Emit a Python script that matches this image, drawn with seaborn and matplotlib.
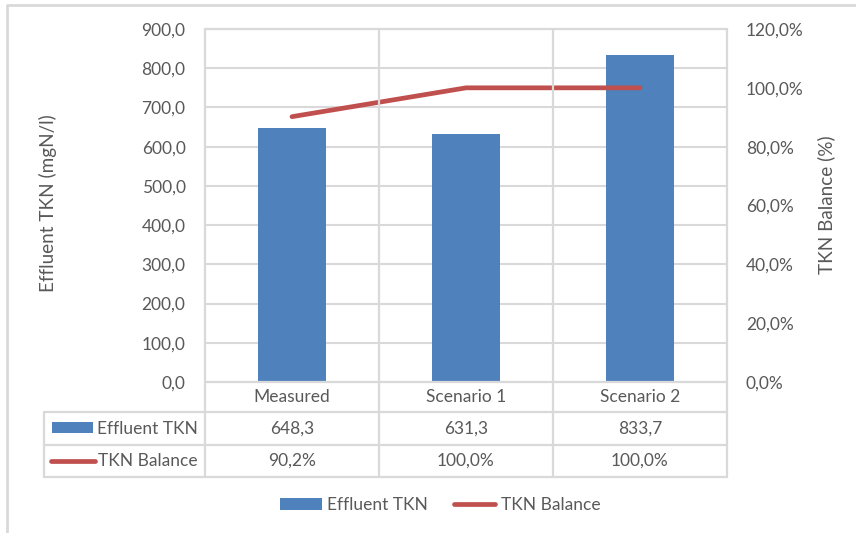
import matplotlib
matplotlib.use("Agg")
import matplotlib.pyplot as plt
from matplotlib.lines import Line2D
from matplotlib.patches import Rectangle
import pandas as pd
import seaborn as sns

# ---- data -----------------------------------------------------------
categories = ["Measured", "Scenario 1", "Scenario 2"]
effluent_tkn = [648.3, 631.3, 833.7]          # mgN/l
tkn_balance = [90.2, 100.0, 100.0]            # %
left_ticks = [0, 100, 200, 300, 400, 500, 600, 700, 800, 900]
right_ticks = [0, 20, 40, 60, 80, 100, 120]

# ---- style ----------------------------------------------------------
BLUE = "#4F81BD"
RED = "#C0504D"
GRID = "#D9D9D9"
TEXT = "#595959"
FS = 12.5

sns.set_theme(style="white")
plt.rcParams["font.family"] = ["Lato", "DejaVu Sans"]
plt.rcParams["text.color"] = TEXT

W, H = 856, 533
fig = plt.figure(figsize=(W / 100, H / 100), dpi=100)


def fx(px):
    return px / W


def fy(py):
    return 1 - py / H


def comma(v, dec=1, pct=False):
    s = f"{v:.{dec}f}".replace(".", ",")
    return s + ("%" if pct else "")


# plot area (pixel box)
L, R, T, B = 205, 727, 29, 382
ax = fig.add_axes([fx(L), fy(B), (R - L) / W, (B - T) / H])

df = pd.DataFrame({"Scenario": categories,
                   "Effluent TKN": effluent_tkn,
                   "TKN Balance": tkn_balance})

# horizontal gridlines
for t in left_ticks:
    ax.axhline(t, color=GRID, lw=1.5, zorder=0)

sns.barplot(data=df, x="Scenario", y="Effluent TKN", color=BLUE,
            saturation=1, width=0.39, linewidth=0, ax=ax, zorder=2)
ax.set_ylim(0, 900)
ax.set_xlim(-0.5, 2.5)
ax.set_yticks(left_ticks)
ax.set_yticklabels([comma(t) for t in left_ticks], fontsize=FS, color=TEXT)
ax.tick_params(axis="y", length=0, pad=14)
ax.set_xticks([])
ax.set_xlabel("")
ax.set_ylabel("")
for s in ax.spines.values():
    s.set_visible(False)

ax2 = ax.twinx()
sns.pointplot(data=df, x="Scenario", y="TKN Balance", color=RED,
              markers="", linestyles="-", errorbar=None, ax=ax2)
for ln in ax2.lines:
    ln.set_linewidth(3.4)
    ln.set_solid_capstyle("round")
ax2.set_ylim(0, 120)
ax2.set_xlim(-0.5, 2.5)
ax2.set_yticks(right_ticks)
ax2.set_yticklabels([comma(t, pct=True) for t in right_ticks],
                    fontsize=FS, color=TEXT)
ax2.tick_params(axis="y", length=0, pad=13.5)
ax2.set_xticks([])
ax2.set_xlabel("")
ax2.set_ylabel("")
for s in ax2.spines.values():
    s.set_visible(False)

# ---- data table below the plot --------------------------------------
TAB_L = 44
ROW_Y = [382, 412, 445, 477]
col_edges = [L + (R - L) * i / 3 for i in range(4)]
col_mid = [L + (R - L) * (i + 0.5) / 3 for i in range(3)]


def hline(x0, x1, y):
    fig.add_artist(Line2D([fx(x0), fx(x1)], [fy(y), fy(y)],
                          color=GRID, lw=1.6, zorder=1))


def vline(x, y0, y1):
    fig.add_artist(Line2D([fx(x), fx(x)], [fy(y0), fy(y1)],
                          color=GRID, lw=1.6, zorder=1))


for x in col_edges:
    vline(x, T, ROW_Y[-1])
hline(L, R, T)
hline(L, R, ROW_Y[0])
for y in ROW_Y[1:]:
    hline(TAB_L, R, y)
vline(TAB_L, ROW_Y[1], ROW_Y[-1])

rows_mid = [(ROW_Y[i] + ROW_Y[i + 1]) / 2 for i in range(3)]
for i, c in enumerate(categories):
    fig.text(fx(col_mid[i]), fy(rows_mid[0]), c, ha="center", va="center",
             fontsize=FS, color=TEXT)
    fig.text(fx(col_mid[i]), fy(rows_mid[1]), comma(effluent_tkn[i]),
             ha="center", va="center", fontsize=FS, color=TEXT)
    fig.text(fx(col_mid[i]), fy(rows_mid[2]), comma(tkn_balance[i], pct=True),
             ha="center", va="center", fontsize=FS, color=TEXT)

# row keys
fig.add_artist(Rectangle((fx(52), fy(433)), fx(93) - fx(52), fy(422) - fy(433),
                         color=BLUE, lw=0))
fig.add_artist(Line2D([fx(51), fx(95)], [fy(rows_mid[2]), fy(rows_mid[2])],
                      color=RED, lw=3.4, solid_capstyle="round"))
fig.text(fx(198), fy(rows_mid[1]), "Effluent TKN", ha="right", va="center",
         fontsize=FS, color=TEXT)
fig.text(fx(198), fy(rows_mid[2]), "TKN Balance", ha="right", va="center",
         fontsize=FS, color=TEXT)

# axis titles
fig.text(fx(48), fy(203), "Effluent TKN (mgN/l)", rotation=90,
         ha="center", va="center", fontsize=13.6, color=TEXT)
fig.text(fx(826), fy(205), "TKN Balance (%)", rotation=90,
         ha="center", va="center", fontsize=13.6, color=TEXT)

# legend
handles = [Rectangle((0, 0), 1, 1, color=BLUE, lw=0),
           Line2D([0], [0], color=RED, lw=3.4, solid_capstyle="round")]
fig.legend(handles, ["Effluent TKN", "TKN Balance"], loc="center",
           bbox_to_anchor=(fx(440), fy(505)), ncol=2, frameon=False,
           fontsize=FS, handlelength=2.4, handleheight=0.65,
           handletextpad=0.3, columnspacing=1.5, labelcolor=TEXT)

# chart border
fig.add_artist(Line2D([fx(7), fx(7), fx(856)], [0, fy(5), fy(5)],
                      color=GRID, lw=2))

fig.savefig("out.png", dpi=100)
